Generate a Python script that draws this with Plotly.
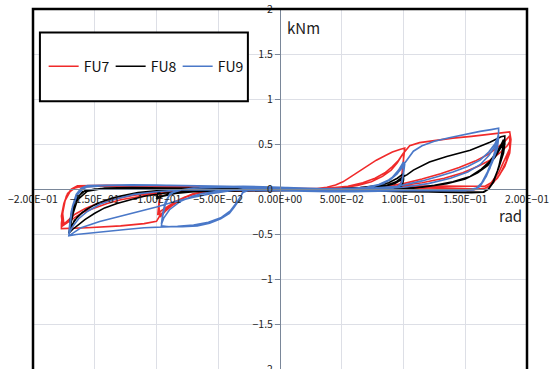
import plotly.graph_objects as go

# ---------------- data (rotation [rad], moment [kNm]) ----------------
x_tick_vals = [-0.2, -0.15, -0.1, -0.05, 0.0, 0.05, 0.1, 0.15, 0.2]
x_tick_text = ["−2.00E−01", "−1.50E−01", "−1.00E−01", "−5.00E−02", "0.00E+00",
               "5.00E−02", "1.00E−01", "1.50E−01", "2.00E−01"]
y_tick_vals = [-2, -1.5, -1, -0.5, 0, 0.5, 1, 1.5, 2]
y_tick_text = ["−2", "−1.5", "−1", "−0.5", "0", "0.5", "1", "1.5", "2"]

fu7_rad = [
    0, 0.015, 0.03, 0.038, 0.045, 0.051, 0.058, 0.064, 0.071, 0.078, 0.085, 0.091, 0.097, 0.101,
    0.1, 0.099, 0.098, 0.095, 0.088, 0.07, 0.04, 0.0, -0.03,
    -0.045, -0.06, -0.07, -0.077, -0.083, -0.088, -0.093, -0.097,
    -0.098, -0.097, -0.094, -0.085, -0.06, -0.03, 0.0,
    0.02, 0.04, 0.055, 0.067, 0.077, 0.085, 0.091, 0.096, 0.1,
    0.1, 0.099, 0.096, 0.085, 0.06, 0.02, -0.02,
    -0.04, -0.055, -0.067, -0.077, -0.085, -0.091, -0.096, -0.099,
    -0.098, -0.096, -0.09, -0.07, -0.04, 0.0,
    0.03, 0.05, 0.063, 0.074, 0.083, 0.09, 0.095, 0.099, 0.105, 0.113, 0.125, 0.14, 0.155, 0.17, 0.182, 0.186,
    0.187, 0.186, 0.182, 0.177, 0.171, 0.166, 0.155, 0.13, 0.105, 0.08, 0.05, 0.0,
    -0.03, -0.05, -0.065, -0.076, -0.085, -0.092, -0.097, -0.1, -0.11, -0.129, -0.156, -0.17, -0.177,
    -0.177, -0.176, -0.175, -0.173, -0.169, -0.164, -0.155, -0.14, -0.12, -0.1, -0.08, -0.05, -0.02, 0.0,
    0.03, 0.06, 0.085, 0.1, 0.115, 0.13, 0.145, 0.158, 0.168, 0.176, 0.182, 0.186,
    0.186, 0.183, 0.178, 0.172, 0.167, 0.16, 0.14, 0.12, 0.1, 0.07, 0.03, 0.0,
    -0.03, -0.06, -0.093, -0.11, -0.129, -0.14, -0.15, -0.16, -0.1665, -0.172, -0.176,
    -0.177, -0.175, -0.172, -0.167, -0.16, -0.14, -0.12, -0.1, -0.07, -0.04, 0.0,
    0.04, 0.07, 0.095, 0.115, 0.133, 0.148, 0.16, 0.17, 0.178, 0.184, 0.187,
    0.186, 0.182, 0.176, 0.17, 0.165, 0.15, 0.12, 0.09, 0.05, 0.0,
    -0.04, -0.08, -0.1, -0.118, -0.134, -0.148, -0.158, -0.166, -0.171, -0.175,
    -0.176, -0.174, -0.17, -0.165, -0.15, -0.12, -0.09, -0.05, 0.0,
]
fu7_knm = [
    0, 0.0, 0.005, 0.02, 0.045, 0.08, 0.14, 0.2, 0.26, 0.32, 0.37, 0.41, 0.44, 0.455,
    0.33, 0.18, 0.07, 0.03, 0.015, 0.0, -0.01, -0.015, -0.02,
    -0.02, -0.03, -0.05, -0.09, -0.14, -0.19, -0.25, -0.31,
    -0.2, -0.07, -0.02, 0.01, 0.025, 0.02, 0.01,
    0.0, 0.01, 0.03, 0.07, 0.12, 0.18, 0.25, 0.32, 0.40,
    0.25, 0.08, 0.03, 0.015, 0.0, -0.01, -0.015,
    -0.015, -0.025, -0.05, -0.09, -0.14, -0.19, -0.24, -0.29,
    -0.15, -0.04, 0.0, 0.02, 0.02, 0.01,
    0.0, 0.015, 0.04, 0.08, 0.14, 0.21, 0.29, 0.38, 0.48, 0.515, 0.54, 0.565, 0.585, 0.61, 0.63, 0.635,
    0.55, 0.45, 0.33, 0.18, 0.07, 0.03, 0.03, 0.035, 0.035, 0.02, 0.01, 0.0,
    -0.005, -0.015, -0.04, -0.09, -0.15, -0.22, -0.29, -0.36, -0.385, -0.41, -0.43, -0.44, -0.44,
    -0.38, -0.28, -0.18, -0.08, 0.0, 0.035, 0.04, 0.04, 0.035, 0.03, 0.02, 0.015, 0.01, 0.0,
    0.0, 0.01, 0.03, 0.06, 0.11, 0.17, 0.24, 0.31, 0.38, 0.46, 0.53, 0.59,
    0.45, 0.3, 0.16, 0.06, 0.01, 0.0, 0.01, 0.02, 0.02, 0.01, 0.0, -0.01,
    -0.01, -0.015, -0.045, -0.075, -0.12, -0.16, -0.21, -0.26, -0.32, -0.37, -0.41,
    -0.3, -0.16, -0.05, 0.01, 0.03, 0.035, 0.03, 0.03, 0.02, 0.01, 0.0,
    0.0, 0.01, 0.03, 0.07, 0.12, 0.18, 0.25, 0.32, 0.40, 0.48, 0.55,
    0.4, 0.25, 0.12, 0.04, 0.0, -0.01, 0.0, 0.01, 0.005, 0.0,
    -0.005, -0.02, -0.04, -0.07, -0.11, -0.16, -0.22, -0.28, -0.34, -0.39,
    -0.27, -0.13, -0.03, 0.02, 0.03, 0.03, 0.02, 0.01, 0.0,
]

fu8_rad = [
    0, 0.03, 0.05, 0.065, 0.078, 0.088, 0.095, 0.1,
    0.1, 0.099, 0.096, 0.085, 0.06, 0.03, 0.0, -0.03,
    -0.05, -0.07, -0.085, -0.095, -0.1,
    -0.099, -0.095, -0.085, -0.06, -0.03, 0.0,
    0.04, 0.06, 0.075, 0.085, 0.093, 0.098, 0.1,
    0.099, 0.096, 0.085, 0.05, 0.0,
    -0.05, -0.075, -0.09, -0.1,
    -0.098, -0.09, -0.06, -0.02, 0.0,
    0.04, 0.06, 0.075, 0.086, 0.094, 0.099, 0.103, 0.108, 0.121, 0.135, 0.154, 0.17, 0.179, 0.182,
    0.182, 0.181, 0.177, 0.173, 0.169, 0.165, 0.155, 0.13, 0.1, 0.07, 0.04, 0.0,
    -0.03, -0.06, -0.093, -0.11, -0.121, -0.132, -0.142, -0.15, -0.158, -0.164, -0.168, -0.171,
    -0.17, -0.169, -0.1675, -0.164, -0.156, -0.142, -0.12, -0.09, -0.05, 0.0,
    0.04, 0.08, 0.108, 0.125, 0.14, 0.154, 0.163, 0.17, 0.175, 0.179, 0.181,
    0.18, 0.177, 0.173, 0.169, 0.165, 0.15, 0.12, 0.09, 0.05, 0.0,
    -0.03, -0.07, -0.1, -0.115, -0.13, -0.142, -0.152, -0.16, -0.1665, -0.17,
    -0.17, -0.168, -0.165, -0.158, -0.145, -0.12, -0.08, -0.04, 0.0,
    0.05, 0.09, 0.115, 0.135, 0.15, 0.16, 0.168, 0.174, 0.178, 0.181,
    0.18, 0.176, 0.172, 0.168, 0.164, 0.14, 0.1, 0.05, 0.0,
    -0.04, -0.08, -0.105, -0.122, -0.136, -0.148, -0.157, -0.164, -0.168, -0.17,
    -0.169, -0.166, -0.16, -0.15, -0.12, -0.08, -0.04, 0.0,
]
fu8_knm = [
    0, 0.0, 0.005, 0.015, 0.035, 0.07, 0.12, 0.17,
    0.1, 0.04, 0.01, 0.0, -0.005, -0.005, -0.01, -0.015,
    -0.02, -0.03, -0.05, -0.08, -0.11,
    -0.05, -0.01, 0.005, 0.01, 0.005, 0.0,
    0.0, 0.0, 0.01, 0.03, 0.06, 0.1, 0.14,
    0.05, 0.01, -0.005, -0.01, -0.01,
    -0.015, -0.03, -0.06, -0.09,
    -0.02, 0.005, 0.01, 0.005, 0.0,
    0.0, 0.005, 0.015, 0.04, 0.08, 0.13, 0.16, 0.21, 0.30, 0.36, 0.43, 0.52, 0.58, 0.59,
    0.5, 0.4, 0.23, 0.09, 0.0, -0.035, -0.04, -0.035, -0.03, -0.02, -0.01, 0.0,
    -0.01, -0.02, -0.045, -0.08, -0.12, -0.16, -0.21, -0.27, -0.34, -0.4, -0.45, -0.49,
    -0.42, -0.34, -0.27, -0.12, -0.025, 0.01, 0.015, 0.01, 0.005, 0.0,
    0.0, 0.0, 0.01, 0.04, 0.08, 0.14, 0.22, 0.31, 0.40, 0.49, 0.55,
    0.42, 0.24, 0.08, 0.0, -0.03, -0.035, -0.03, -0.025, -0.01, 0.0,
    -0.005, -0.01, -0.02, -0.04, -0.08, -0.13, -0.19, -0.26, -0.35, -0.46,
    -0.35, -0.22, -0.1, -0.02, 0.005, 0.01, 0.01, 0.005, 0.0,
    0.0, 0.0, 0.02, 0.06, 0.11, 0.18, 0.26, 0.35, 0.44, 0.52,
    0.38, 0.2, 0.06, -0.01, -0.035, -0.035, -0.03, -0.01, 0.0,
    -0.005, -0.01, -0.03, -0.06, -0.1, -0.16, -0.23, -0.31, -0.39, -0.47,
    -0.3, -0.14, -0.03, 0.0, 0.01, 0.01, 0.005, 0.0,
]

fu9_rad = [
    0, 0.03, 0.05, 0.065, 0.075, 0.084, 0.091, 0.096, 0.1,
    0.1, 0.099, 0.096, 0.088, 0.07, 0.04, 0.0, -0.02,
    -0.025, -0.03, -0.033, -0.037, -0.041, -0.048, -0.057, -0.067, -0.079, -0.09, -0.096,
    -0.095, -0.093, -0.09, -0.085, -0.07, -0.04, 0.0,
    0.03, 0.055, 0.07, 0.08, 0.088, 0.094, 0.098, 0.101,
    0.1, 0.098, 0.094, 0.085, 0.06, 0.03, 0.0,
    -0.03, -0.045, -0.052, -0.063, -0.071, -0.081, -0.0895, -0.094, -0.096,
    -0.095, -0.093, -0.089, -0.08, -0.06, -0.03, 0.0,
    0.03, 0.055, 0.07, 0.081, 0.089, 0.095, 0.099, 0.103, 0.108, 0.115, 0.125, 0.137, 0.15, 0.162, 0.171, 0.177,
    0.177, 0.176, 0.174, 0.17, 0.1646, 0.159, 0.15, 0.13, 0.1, 0.07, 0.04, 0.0,
    -0.025, -0.03, -0.034, -0.04, -0.048, -0.058, -0.07, -0.083, -0.096, -0.11, -0.125, -0.14, -0.155, -0.165, -0.171,
    -0.1705, -0.1697, -0.168, -0.165, -0.161, -0.156, -0.14, -0.12, -0.1, -0.08, -0.06, -0.03, 0.0,
    0.03, 0.07, 0.095, 0.105, 0.115, 0.128, 0.14, 0.152, 0.162, 0.169, 0.174, 0.177,
    0.176, 0.173, 0.168, 0.163, 0.158, 0.14, 0.1, 0.06, 0.02, 0.0,
    -0.03, -0.04, -0.055, -0.07, -0.085, -0.1, -0.115, -0.13, -0.146, -0.161, -0.171,
    -0.1705, -0.169, -0.166, -0.161, -0.155, -0.14, -0.12, -0.09, -0.06, -0.03, 0.0,
    0.04, 0.08, 0.1, 0.12, 0.138, 0.152, 0.162, 0.169, 0.174, 0.177,
    0.176, 0.172, 0.167, 0.162, 0.157, 0.13, 0.09, 0.04, 0.0,
    -0.04, -0.08, -0.1, -0.118, -0.133, -0.146, -0.156, -0.163, -0.168, -0.171,
    -0.17, -0.168, -0.164, -0.158, -0.14, -0.1, -0.05, 0.0,
]
fu9_knm = [
    0, 0.0, 0.005, 0.01, 0.025, 0.06, 0.13, 0.21, 0.3,
    0.2, 0.08, 0.02, 0.0, -0.01, -0.015, -0.01, -0.01,
    -0.005, -0.03, -0.12, -0.2, -0.27, -0.33, -0.38, -0.41, -0.42, -0.42, -0.41,
    -0.3, -0.18, -0.08, -0.02, 0.01, 0.02, 0.01,
    0.0, 0.005, 0.02, 0.05, 0.1, 0.16, 0.22, 0.28,
    0.17, 0.06, 0.015, 0.0, -0.01, -0.02, -0.02,
    -0.01, -0.015, -0.03, -0.05, -0.08, -0.14, -0.23, -0.32, -0.39,
    -0.28, -0.15, -0.05, -0.01, 0.02, 0.03, 0.02,
    0.0, 0.005, 0.02, 0.05, 0.1, 0.17, 0.25, 0.33, 0.42, 0.48, 0.53, 0.57, 0.61, 0.64, 0.66, 0.675,
    0.62, 0.55, 0.42, 0.23, 0.084, 0.01, -0.02, -0.02, -0.01, -0.02, -0.03, -0.02,
    -0.01, -0.04, -0.13, -0.24, -0.32, -0.37, -0.4, -0.415, -0.42, -0.43, -0.45, -0.47, -0.49, -0.505, -0.52,
    -0.46, -0.38, -0.19, -0.06, 0.01, 0.037, 0.045, 0.048, 0.045, 0.035, 0.03, 0.02, 0.01,
    0.0, 0.005, 0.03, 0.06, 0.09, 0.14, 0.19, 0.25, 0.32, 0.41, 0.5, 0.6,
    0.5, 0.36, 0.19, 0.06, 0.0, -0.02, -0.02, -0.03, -0.02, -0.01,
    0.0, -0.02, -0.05, -0.09, -0.14, -0.2, -0.25, -0.3, -0.36, -0.43, -0.52,
    -0.42, -0.25, -0.1, -0.01, 0.03, 0.04, 0.045, 0.04, 0.035, 0.03, 0.02,
    0.0, 0.0, 0.02, 0.06, 0.12, 0.19, 0.27, 0.37, 0.47, 0.57,
    0.45, 0.3, 0.14, 0.03, -0.01, -0.02, -0.02, -0.03, -0.02,
    -0.01, -0.01, -0.03, -0.06, -0.11, -0.17, -0.25, -0.33, -0.42, -0.5,
    -0.38, -0.2, -0.06, 0.02, 0.04, 0.04, 0.03, 0.0,
]

assert len(fu7_rad) == len(fu7_knm), (len(fu7_rad), len(fu7_knm))
assert len(fu8_rad) == len(fu8_knm), (len(fu8_rad), len(fu8_knm))
assert len(fu9_rad) == len(fu9_knm), (len(fu9_rad), len(fu9_knm))

series = [
    ("FU7", fu7_rad, fu7_knm, "#F02A2A"),
    ("FU8", fu8_rad, fu8_knm, "#000000"),
    ("FU9", fu9_rad, fu9_knm, "#4A78C8"),
]

FONT = "Noto Sans CJK JP, Noto Sans, sans-serif"
AXIS_COLOR = "#7A8799"
GRID_COLOR = "#DDDFE6"

fig = go.Figure()
for name, xs, ys, col in series:
    fig.add_trace(go.Scatter(x=xs, y=ys, mode="lines", name=name,
                             line=dict(color=col, width=1.6)))

fig.update_layout(
    width=549, height=369,
    margin=dict(l=33, r=22, t=9, b=0, autoexpand=False),
    paper_bgcolor="white", plot_bgcolor="white",
    font=dict(family=FONT, color="#222222"),
    showlegend=True,
    legend=dict(orientation="h", x=0.225, y=0.84, xanchor="center", yanchor="middle",
                bgcolor="rgba(0,0,0,0)", borderwidth=0,
                font=dict(size=14, family=FONT, color="#111111"),
                entrywidth=22, entrywidthmode="pixels"),
    xaxis=dict(range=[-0.2, 0.2], tickvals=x_tick_vals, ticktext=x_tick_text,
               anchor="free", position=0.5, showline=True, linecolor=AXIS_COLOR, linewidth=1,
               showgrid=True, gridcolor=GRID_COLOR, gridwidth=1, zeroline=False,
               ticks="", tickfont=dict(size=10.5, family=FONT, color="#222222"),
               ticklabeloverflow="allow", automargin=False),
    yaxis=dict(range=[-2, 2], tickvals=y_tick_vals, ticktext=y_tick_text,
               anchor="free", position=0.5, showline=True, linecolor=AXIS_COLOR, linewidth=1,
               showgrid=True, gridcolor=GRID_COLOR, gridwidth=1, zeroline=False,
               ticks="outside", ticklen=5, tickcolor=AXIS_COLOR,
               tickfont=dict(size=10.5, family=FONT, color="#222222"),
               ticklabeloverflow="allow", automargin=False),
    shapes=[
        dict(type="rect", xref="paper", yref="paper", x0=0, x1=1, y0=-0.02, y1=1,
             line=dict(color="black", width=2.5), fillcolor="rgba(0,0,0,0)", layer="above"),
        dict(type="rect", xref="paper", yref="paper", x0=0.014, x1=0.435, y0=0.744, y1=0.935,
             line=dict(color="black", width=2), fillcolor="white", layer="above"),
    ],
    annotations=[
        dict(x=0.004, y=1.80, xref="x", yref="y", text="kNm", showarrow=False,
             xanchor="left", yanchor="middle", font=dict(size=15, family=FONT, color="#222222")),
        dict(x=0.187, y=-0.29, xref="x", yref="y", text="rad", showarrow=False,
             xanchor="center", yanchor="middle", font=dict(size=15, family=FONT, color="#222222")),
    ],
)

fig.write_html("out.html", config={"displayModeBar": False},
               post_script="document.body.style.margin='0';document.body.style.padding='0';")
